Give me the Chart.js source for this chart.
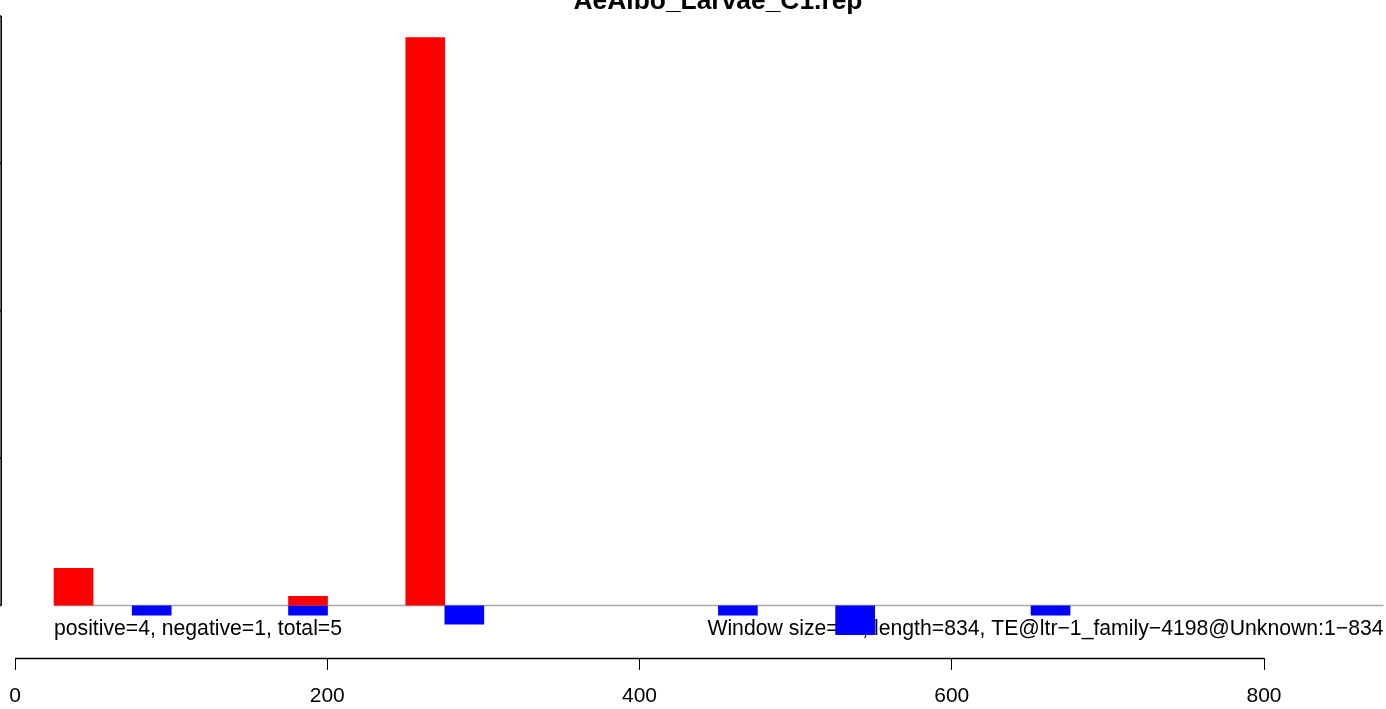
<!DOCTYPE html>
<html>
<head>
<meta charset="utf-8">
<script src="https://cdn.jsdelivr.net/npm/chart.js@4.4.1/dist/chart.umd.min.js"></script>
<style>
  html, body { margin: 0; padding: 0; background: #ffffff; overflow: hidden; }
  #wrap { position: relative; width: 1386px; height: 709px; }
</style>
</head>
<body>
<div id="wrap"><canvas id="c"></canvas></div>
<script>
// ---- data ----
const titleText = 'AeAlbo_Larvae_C1.rep';
const windowSize = 25;
const positiveStarts = [25, 175, 250];
const positiveValues = [0.255, 0.065, 3.855];
const negativeStarts = [75, 175, 275, 450, 525, 650];
const negativeValues = [-0.068, -0.068, -0.129, -0.068, -0.2, -0.068];
const xTickValues = [0, 200, 400, 600, 800];
const yTickValues = [0, 1, 2, 3, 4];
const summaryLeft = 'positive=4, negative=1, total=5';
const summaryRight = 'Window size=25, length=834, TE@ltr\u22121_family\u22124198@Unknown:1\u2212834';
const plotRange = [25, 875.5];

// ---- layout / style ----
const FONT = "'Liberation Sans', Arial, Helvetica, sans-serif";
const X_MIN = -9.608, X_MAX = 878.14;      // bottom axis scale
const XB_MIN = -9.544, XB_MAX = 877.1;     // upper panel scale
const Y_MIN = -0.35623, Y_MAX = 4.10857;

const toPoints = (starts, values) => starts.map((s, i) => ({ x: s + windowSize / 2, y: values[i] }));

const decor = {
  id: 'decor',
  afterLayout(chart) {
    const tb = chart.titleBlock;
    if (tb) { tb.left = 50; tb.right = chart.width; tb.width = tb.right - tb.left; }
  },
  beforeDatasetsDraw(chart) {
    const ctx = chart.ctx;
    const xs = chart.scales.x, xb = chart.scales.xb, ys = chart.scales.y;
    const y0 = ys.getPixelForValue(0);
    ctx.save();
    // summary texts (under the bars)
    ctx.font = '21.2px ' + FONT;
    ctx.fillStyle = '#000';
    ctx.textBaseline = 'alphabetic';
    ctx.textAlign = 'left';
    ctx.fillText(summaryLeft, xb.getPixelForValue(plotRange[0]), y0 + 29);
    ctx.textAlign = 'right';
    ctx.fillText(summaryRight, xb.getPixelForValue(plotRange[1]), y0 + 29);
    // left axis
    ctx.strokeStyle = '#000';
    ctx.lineWidth = 1.6;
    ctx.beginPath();
    ctx.moveTo(1.2, ys.getPixelForValue(yTickValues[yTickValues.length - 1]));
    ctx.lineTo(1.2, ys.getPixelForValue(yTickValues[0]));
    ctx.stroke();
    yTickValues.forEach(v => {
      const py = ys.getPixelForValue(v);
      ctx.beginPath();
      ctx.moveTo(-8, py);
      ctx.lineTo(1.2, py);
      ctx.stroke();
    });
    // bottom axis line between first and last tick
    ctx.lineWidth = 1.3;
    ctx.beginPath();
    ctx.moveTo(xs.getPixelForValue(xTickValues[0]), xs.top + 0.5);
    ctx.lineTo(xs.getPixelForValue(xTickValues[xTickValues.length - 1]), xs.top + 0.5);
    ctx.stroke();
    ctx.restore();
  }
};

new Chart(document.getElementById('c'), {
  type: 'bar',
  data: {
    datasets: [
      {
        type: 'bar', label: 'positive', xAxisID: 'xb',
        data: toPoints(positiveStarts, positiveValues),
        backgroundColor: '#ff0000', borderWidth: 0,
        barPercentage: 1.015, categoryPercentage: 1, grouped: false, order: 1
      },
      {
        type: 'bar', label: 'negative', xAxisID: 'xb',
        data: toPoints(negativeStarts, negativeValues),
        backgroundColor: '#0000ff', borderWidth: 0,
        barPercentage: 1.015, categoryPercentage: 1, grouped: false, order: 2
      },
      {
        type: 'line', label: 'baseline', xAxisID: 'xb',
        data: [{ x: plotRange[0], y: 0 }, { x: plotRange[1], y: 0 }],
        borderColor: '#a9a9a9', borderWidth: 1.5, pointRadius: 0, order: 10
      }
    ]
  },
  options: {
    responsive: true,
    maintainAspectRatio: false,
    animation: false,
    events: [],
    layout: { padding: 0 },
    plugins: {
      legend: { display: false },
      tooltip: { enabled: false },
      title: {
        display: true,
        text: titleText,
        color: '#000',
        font: { family: FONT, size: 26.4, weight: 'bold', lineHeight: 1.2 },
        padding: { top: -14.3, bottom: -17.38 }
      }
    },
    scales: {
      x: {
        type: 'linear',
        min: X_MIN, max: X_MAX,
        offset: false,
        border: { display: false },
        grid: { display: true, offset: false, drawOnChartArea: false, drawTicks: true, tickLength: 12, color: '#000', lineWidth: 1 },
        ticks: { font: { family: FONT, size: 21, lineHeight: 1.2 }, color: '#000', padding: 14, maxRotation: 0, autoSkip: false, includeBounds: false },
        afterBuildTicks: s => { s.ticks = xTickValues.map(v => ({ value: v })); },
        afterFit: s => { s.height = 51; s.paddingLeft = 0; s.paddingRight = 0; s.paddingTop = 0; s.paddingBottom = 0; }
      },
      xb: {
        type: 'linear',
        position: 'bottom',
        min: XB_MIN, max: XB_MAX,
        offset: false,
        display: false,
        grid: { offset: false }
      },
      y: {
        type: 'linear',
        min: Y_MIN, max: Y_MAX,
        display: false
      }
    }
  },
  plugins: [decor]
});
</script>
</body>
</html>
